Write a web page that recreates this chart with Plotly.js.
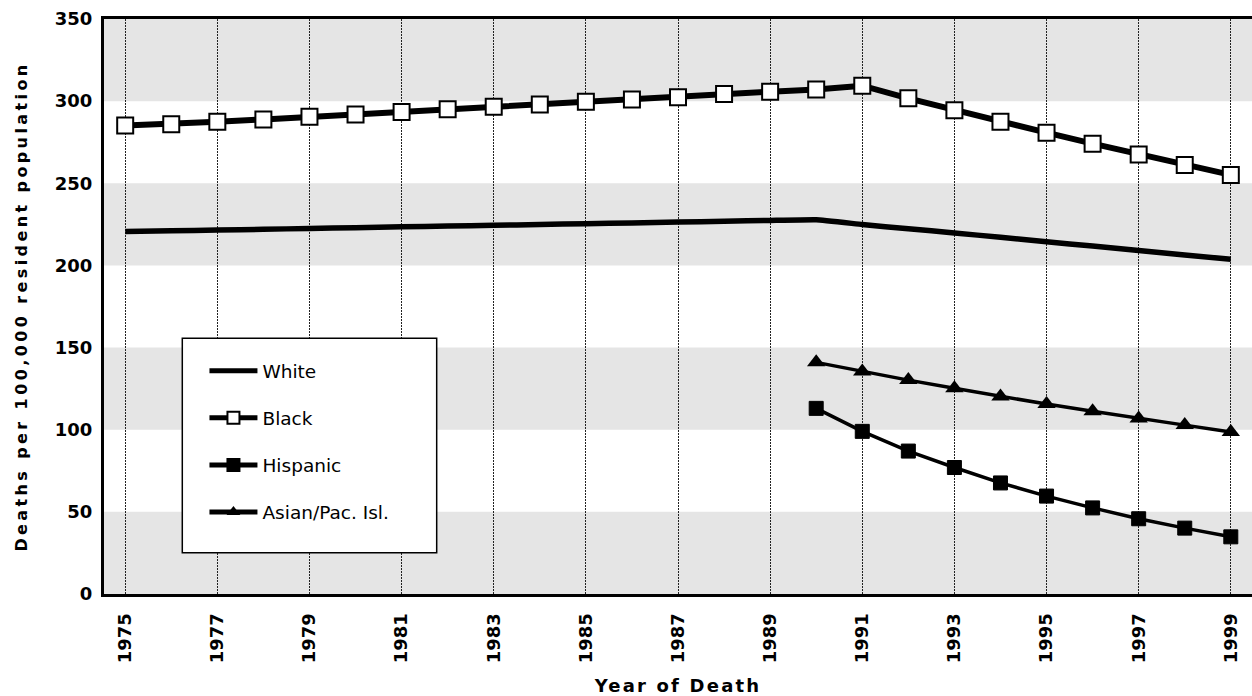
<!DOCTYPE html>
<html>
<head>
<meta charset="utf-8">
<script src="https://cdn.plot.ly/plotly-3.0.1.min.js"></script>
<style>
  html, body { margin: 0; padding: 0; background: #fff; }
  #chart { width: 1252px; height: 696px; }
  .g-xtitle text { letter-spacing: 2.2px; }
  .g-ytitle text { letter-spacing: 3.4px; }
</style>
</head>
<body>
<div id="chart"></div>
<script>
// ---- data ----
const years = [1975,1976,1977,1978,1979,1980,1981,1982,1983,1984,1985,1986,1987,1988,1989,1990,1991,1992,1993,1994,1995,1996,1997,1998,1999];
const yearsLate = [1990,1991,1992,1993,1994,1995,1996,1997,1998,1999];
const white = [220.6,221.1,221.5,222.0,222.5,223.0,223.5,224.0,224.4,224.9,225.4,225.9,226.4,226.9,227.4,227.8,224.9,222.3,219.8,217.1,214.4,211.8,209.1,206.4,203.7];
const black = [285.1,286.0,287.5,288.9,290.5,291.9,293.4,295.0,296.6,298.0,299.6,301.0,302.4,304.3,305.7,307.1,309.4,301.7,294.5,287.4,280.8,274.1,267.5,261.2,255.1];
const hispanic = [113.0,99.0,87.0,77.0,67.6,59.6,52.4,45.8,40.1,34.8];
const asian = [141.0,135.4,130.2,125.2,120.2,115.6,111.2,106.8,102.8,98.6];
const seriesNames = ['White','Black','Hispanic','Asian/Pac. Isl.'];
const xTickVals = [1975,1977,1979,1981,1983,1985,1987,1989,1991,1993,1995,1997,1999];
const yTickVals = [0,50,100,150,200,250,300,350];
const shadedBands = [[0,50],[100,150],[200,250],[300,350]];
const xTitle = 'Year of Death';
const yTitle = 'Deaths per 100,000 resident population';

// ---- styles ----
const FONT = 'DejaVu Sans, Arial, sans-serif';

const traces = [
  {
    x: years, y: white, name: seriesNames[0], type: 'scatter', mode: 'lines',
    line: {color: '#000', width: 5.5, shape: 'spline', smoothing: 0.3},
    legendgroup: 'g1'
  },
  {
    x: years, y: black, name: seriesNames[1], type: 'scatter', mode: 'lines+markers',
    line: {color: '#000', width: 6},
    marker: {symbol: 'square', size: 16, color: '#fff', line: {color: '#000', width: 2}},
    legendgroup: 'g2'
  },
  {
    x: yearsLate, y: hispanic, name: seriesNames[2], type: 'scatter', mode: 'lines+markers',
    line: {color: '#000', width: 3.5},
    marker: {symbol: 'square', size: 14, color: '#000', line: {color: '#000', width: 1}},
    legendgroup: 'g3'
  },
  {
    x: yearsLate, y: asian, name: seriesNames[3], type: 'scatter', mode: 'lines+markers',
    line: {color: '#000', width: 3.5},
    marker: {symbol: 'triangle-up', size: 16, color: '#000'},
    legendgroup: 'g4'
  }
];

const shapes = shadedBands.map(b => ({
  type: 'rect', xref: 'paper', x0: 0, x1: 1, yref: 'y', y0: b[0], y1: b[1],
  fillcolor: '#e5e5e5', line: {width: 0}, layer: 'below'
}));
// legend frame
shapes.push({
  type: 'rect', xref: 'paper', yref: 'paper',
  x0: 0.0682, x1: 0.2898, y0: 0.0718, y1: 0.4447,
  fillcolor: '#fff', line: {color: '#000', width: 1.5}, layer: 'above'
});

const layout = {
  width: 1252, height: 696,
  margin: {l: 104, r: 0, t: 19, b: 102, pad: 0},
  paper_bgcolor: '#fff', plot_bgcolor: 'rgba(0,0,0,0)',
  showlegend: true,
  legend: {
    x: 0.0875, y: 0.4204, xanchor: 'left', yanchor: 'top',
    bgcolor: 'rgba(0,0,0,0)', borderwidth: 0,
    font: {family: FONT, size: 18.5, color: '#000'},
    itemwidth: 48, itemsizing: 'constant', tracegroupgap: 20,
    traceorder: 'grouped'
  },
  xaxis: {
    range: [1974.54, 1999.46],
    tickmode: 'array', tickvals: xTickVals, ticktext: xTickVals.map(String),
    tickangle: -90, ticks: '', ticklabelstandoff: 9,
    tickfont: {family: FONT, size: 18, color: '#000', weight: 'bold'},
    showgrid: true, gridcolor: '#222', gridwidth: 1, griddash: '2px,1px',
    zeroline: false, showline: true, linecolor: '#000', linewidth: 3, mirror: true,
    title: {text: xTitle, font: {family: FONT, size: 18, color: '#000', weight: 'bold'}, standoff: 18}
  },
  yaxis: {
    range: [0, 350],
    tickmode: 'array', tickvals: yTickVals, ticktext: yTickVals.map(String),
    ticks: '', ticklabelstandoff: 5,
    tickfont: {family: FONT, size: 18, color: '#000', weight: 'bold'},
    showgrid: false, zeroline: false, showline: true, linecolor: '#000', linewidth: 3,
    title: {text: yTitle, font: {family: FONT, size: 16, color: '#000', weight: 'bold'}, standoff: 24}
  },
  shapes: shapes
};

Plotly.newPlot('chart', traces, layout, {displayModeBar: false, staticPlot: true});
</script>
</body>
</html>
